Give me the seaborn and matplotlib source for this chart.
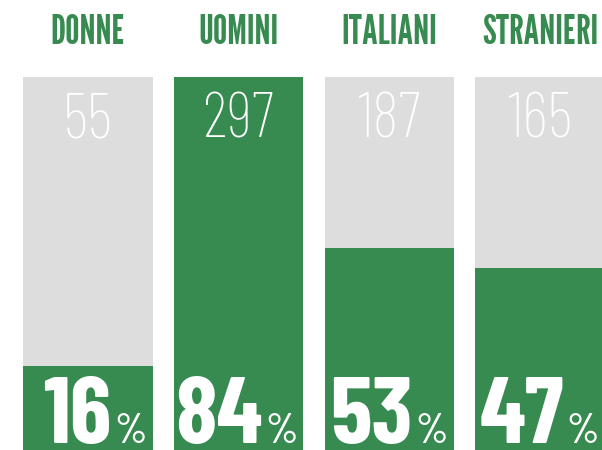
import numpy as np
import pandas as pd
import matplotlib.pyplot as plt
import seaborn as sns
from matplotlib import font_manager

categories = ['DONNE', 'UOMINI', 'ITALIANI', 'STRANIERI']
counts = [55, 297, 187, 165]
percent = [16, 84, 53, 47]
# green fill as drawn in the picture (share of the grey column)
fill_share = [0.225, 1.0, 0.541, 0.488]

green = '#378B50'
grey = '#DDDDDD'

sns.set_theme(style='white')
weights = {}
for f in font_manager.fontManager.ttflist:
    weights.setdefault(f.name, set()).add(f.weight)


def pick(names, need_bold=True):
    for n in names:
        if n in weights and (not need_bold or 700 in weights[n]):
            return n
    return 'DejaVu Sans'


narrow = pick(['Barlow Condensed', 'Roboto Condensed', 'Asap Condensed'])
title_font = pick(['League Gothic'], need_bold=False)
title_weight = 'normal'
if title_font == 'DejaVu Sans':
    title_font = pick(['Antonio', 'Big Shoulders Display', 'Barlow Condensed'])
    title_weight = 'bold'
plt.rcParams['font.family'] = [narrow, 'DejaVu Sans']

df = pd.DataFrame({'cat': categories, 'fill': fill_share})
df['full'] = 1.0

fig = plt.figure(figsize=(6.02, 4.5), dpi=100)
ax = fig.add_axes([0, 0, 1, 1])
sns.barplot(data=df, x='cat', y='full', color=grey, saturation=1, width=0.86,
            linewidth=0, errorbar=None, ax=ax)
sns.barplot(data=df, x='cat', y='fill', color=green, saturation=1, width=0.86,
            linewidth=0, errorbar=None, ax=ax)
ax.set_xlim(-0.584, 3.411)
ax.set_ylim(0, 1.2055)
ax.set_axis_off()

# size the titles so the longest one is about as wide as in the reference
renderer = fig.canvas.get_renderer()
probe = ax.text(0, 0, max(categories, key=len), fontsize=30,
                fontweight=title_weight, family=[title_font, 'DejaVu Sans'])
w = probe.get_window_extent(renderer).width
probe.remove()
title_size = min(36, 30 * 116 / w)

for i, (cat, n, p) in enumerate(zip(categories, counts, percent)):
    ax.text(i, 1.116, cat, ha='center', va='center', color=green,
            fontsize=title_size, fontweight=title_weight,
            family=[title_font, 'DejaVu Sans'])
    ax.text(i, 0.879, str(n), ha='center', va='center', color='white',
            fontsize=46, fontweight='light')
    ax.annotate(str(p), (i, 0.019), xytext=(17, 0), textcoords='offset points',
                ha='right', va='baseline', color='white', fontsize=68,
                fontweight='bold')
    ax.annotate('%', (i, 0.019), xytext=(19, 0), textcoords='offset points',
                ha='left', va='baseline', color='white', fontsize=30,
                fontweight='medium')

fig.savefig('out.png', dpi=100)
